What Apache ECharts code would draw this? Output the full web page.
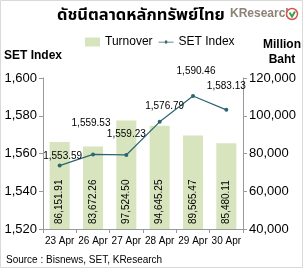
<!DOCTYPE html>
<html>
<head>
<meta charset="utf-8">
<style>
  html, body { margin: 0; padding: 0; background: #fff; }
  #main { width: 304px; height: 269px; }
</style>
</head>
<body>
<div id="main"></div>
<script src="https://cdn.jsdelivr.net/npm/echarts@6/dist/echarts.min.js"></script>
<script>
var dates = ['23 Apr', '26 Apr', '27 Apr', '28 Apr', '29 Apr', '30 Apr'];
var turnover = [86151.91, 83672.26, 97524.50, 94645.25, 89565.47, 85480.11];
var setIndex = [1553.59, 1559.53, 1559.23, 1576.79, 1590.46, 1583.13];

// hand-placed label nudges, like the Excel original
var labelNudge = [[3, 2], [-2, -20], [0, -10], [5, -5], [3, -14], [0, -13]];

var font = 'Arial, "Liberation Sans", sans-serif';
var chart = echarts.init(document.getElementById('main'));

chart.setOption({
    animation: false,
    textStyle: { fontFamily: font },
    grid: { left: 43, right: 61, top: 78, bottom: 40 },
    legend: {
        top: 31, left: 80,
        itemGap: 6,
        itemWidth: 15, itemHeight: 9,
        textStyle: { fontSize: 12, color: '#000' },
        data: [
            { name: 'Turnover', icon: 'rect' },
            { name: 'SET Index', icon: 'path://M0,5 L20,5 L20,6 L0,6 Z M8.5,3.5 L11.5,3.5 L11.5,7.5 L8.5,7.5 Z' }
        ]
    },
    graphic: [
        { type: 'rect', shape: { x: 0.5, y: 0.5, width: 302, height: 267 },
          style: { fill: 'none', stroke: '#d9d9d9', lineWidth: 1 } },
        { type: 'text', left: 57, top: 8,
          style: { text: 'ดัชนีตลาดหลักทรัพย์ไทย', font: 'bold 16.5px "Noto Sans Thai", "Noto Sans", sans-serif', fill: '#000' } },
        { type: 'text', left: 230, top: 8,
          style: { text: 'KResearch', font: 'bold 12px ' + font, fill: '#8c8276' } },
        { type: 'circle', shape: { cx: 292, cy: 14, r: 5.5 },
          style: { fill: '#fff', stroke: '#d9534f', lineWidth: 1.5 } },
        { type: 'polyline', shape: { points: [[289.5, 12.5], [292, 16.5], [295, 11.5]] },
          style: { stroke: '#3aa546', lineWidth: 2, fill: 'none' } },
        { type: 'text', left: 4, top: 50,
          style: { text: 'SET Index', font: 'bold 12px ' + font, fill: '#000' } },
        { type: 'text', left: 263, top: 37,
          style: { text: 'Million\nBaht', font: 'bold 12px ' + font, fill: '#000', textAlign: 'center', lineHeight: 15 } },
        { type: 'text', left: 6, top: 255,
          style: { text: 'Source : Bisnews, SET, KResearch', font: '10px ' + font, fill: '#000' } }
    ],
    xAxis: {
        type: 'category',
        data: dates,
        axisLine: { lineStyle: { color: '#999' } },
        axisTick: { show: true, length: 4, alignWithLabel: false, lineStyle: { color: '#999' } },
        axisLabel: { fontSize: 10, color: '#000', margin: 7, interval: 0 }
    },
    yAxis: [
        {
            type: 'value', min: 1520, max: 1600, interval: 20,
            axisLine: { show: true, lineStyle: { color: '#999' } },
            axisTick: { show: true, length: 4, lineStyle: { color: '#999' } },
            splitLine: { show: false },
            axisLabel: {
                fontSize: 13, color: '#000', margin: 6,
                formatter: function (v) { return v.toLocaleString('en-US'); }
            }
        },
        {
            type: 'value', min: 40000, max: 120000, interval: 20000,
            axisLine: { show: true, lineStyle: { color: '#999' } },
            axisTick: { show: true, length: 4, lineStyle: { color: '#999' } },
            splitLine: { show: false },
            axisLabel: {
                fontSize: 13, color: '#000', margin: 6,
                formatter: function (v) { return v.toLocaleString('en-US'); }
            }
        }
    ],
    series: [
        {
            name: 'Turnover',
            type: 'bar',
            yAxisIndex: 1,
            barWidth: 20,
            itemStyle: { color: '#d7e4bd' },
            label: {
                show: true, position: 'insideBottom', rotate: 90,
                align: 'left', verticalAlign: 'middle', distance: 5,
                fontSize: 10, color: '#000',
                formatter: function (p) {
                    return p.value.toLocaleString('en-US', { minimumFractionDigits: 2 });
                }
            },
            data: turnover
        },
        {
            name: 'SET Index',
            type: 'line',
            yAxisIndex: 0,
            symbol: 'circle',
            symbolSize: 4,
            itemStyle: { color: '#2c6670' },
            lineStyle: { color: '#2c6670', width: 1.2 },
            data: setIndex.map(function (v, i) {
                return {
                    value: v,
                    label: {
                        show: true, position: 'top', distance: 4,
                        offset: labelNudge[i],
                        fontSize: 10, color: '#000',
                        formatter: function (p) {
                            return p.value.toLocaleString('en-US', { minimumFractionDigits: 2 });
                        }
                    }
                };
            })
        }
    ]
});
</script>
</body>
</html>
